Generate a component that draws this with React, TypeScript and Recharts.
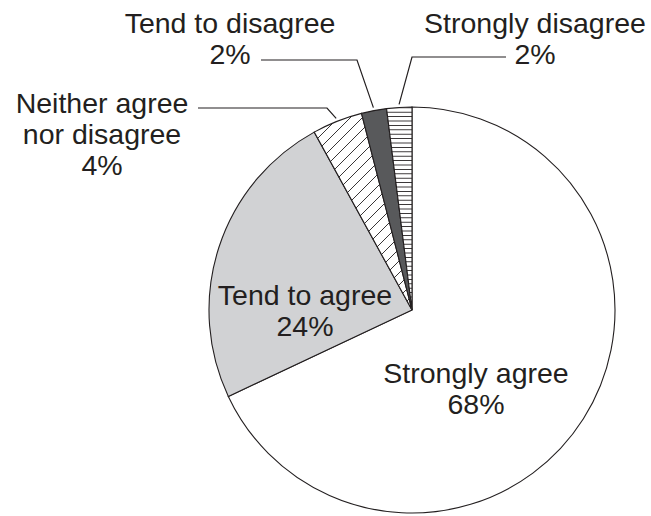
import { PieChart, Pie, Cell } from 'recharts';

const categories = ['Strongly agree', 'Tend to agree', 'Neither agree nor disagree', 'Tend to disagree', 'Strongly disagree'];
const shares = [68, 24, 4, 2, 2];
const labelLines = [['Strongly agree'], ['Tend to agree'], ['Neither agree', 'nor disagree'], ['Tend to disagree'], ['Strongly disagree']];

const data = categories.map((name, i) => ({ name, value: shares[i] }));

const FILLS = ['#ffffff', '#d1d2d4', 'url(#hatch)', '#58595b', 'url(#hlines)'];
const FONT = '"Liberation Sans", Arial, Helvetica, sans-serif';
const FONT_SIZE = 28.5;
const LINE_H = 31;

// label placement relative to pie centre: text x, first baseline y, and for outside labels the leader elbow / end
const LABEL_POS = [
  { tx: 64, ty: 73 },
  { tx: -107, ty: -5 },
  { tx: -310, ty: -197, ex: -85, ey: -202, lx: -214 },
  { tx: -182, ty: -277, ex: -55, ey: -250, lx: -151 },
  { tx: 123, ty: -277, ex: 0, ey: -253, lx: 94 },
];

const RADIAN = Math.PI / 180;

const renderLabel = (props: any) => {
  const { cx, cy, midAngle, outerRadius, index } = props;
  const pos = LABEL_POS[index];
  const lines = [...labelLines[index], `${shares[index]}%`];
  const x = cx + pos.tx;
  const y = cy + pos.ty;
  let leader = null;
  if (pos.ex !== undefined) {
    const r = outerRadius + 3;
    const sx = cx + r * Math.cos(-midAngle * RADIAN);
    const sy = cy + r * Math.sin(-midAngle * RADIAN);
    leader = (
      <polyline
        points={`${sx},${sy} ${cx + pos.ex},${cy + pos.ey} ${cx + pos.lx},${cy + pos.ey}`}
        fill="none"
        stroke="#231f20"
        strokeWidth={1.2}
      />
    );
  }
  return (
    <g key={`label-${index}`}>
      {leader}
      <text x={x} y={y} textAnchor="middle" fill="#231f20" fontFamily={FONT} fontSize={FONT_SIZE}>
        {lines.map((line, i) => (
          <tspan key={i} x={x} dy={i === 0 ? 0 : LINE_H}>
            {line}
          </tspan>
        ))}
      </text>
    </g>
  );
};

export default function App() {
  return (
    <div style={{ position: 'absolute', left: 0, top: 0, background: '#fff' }}>
      <PieChart width={651} height={516} margin={{ top: 0, right: 0, bottom: 0, left: 0 }}>
        <defs>
          <pattern id="hatch" patternUnits="userSpaceOnUse" width="12" height="12">
            <rect width="12" height="12" fill="#fff" />
            <path d="M-1,1 l2,-2 M0,12 l12,-12 M11,13 l2,-2" stroke="#231f20" strokeWidth="0.9" />
          </pattern>
          <pattern id="hlines" patternUnits="userSpaceOnUse" width="8" height="4.4">
            <rect width="8" height="4.4" fill="#fff" />
            <line x1="0" y1="2.2" x2="8" y2="2.2" stroke="#231f20" strokeWidth="0.9" />
          </pattern>
        </defs>
        <Pie
          data={data}
          dataKey="value"
          nameKey="name"
          cx={412}
          cy={310}
          outerRadius={203}
          startAngle={90}
          endAngle={-270}
          stroke="#231f20"
          strokeWidth={1.1}
          label={renderLabel}
          labelLine={false}
          isAnimationActive={false}
        >
          {data.map((entry, index) => (
            <Cell key={`cell-${index}`} fill={FILLS[index]} />
          ))}
        </Pie>
      </PieChart>
    </div>
  );
}
